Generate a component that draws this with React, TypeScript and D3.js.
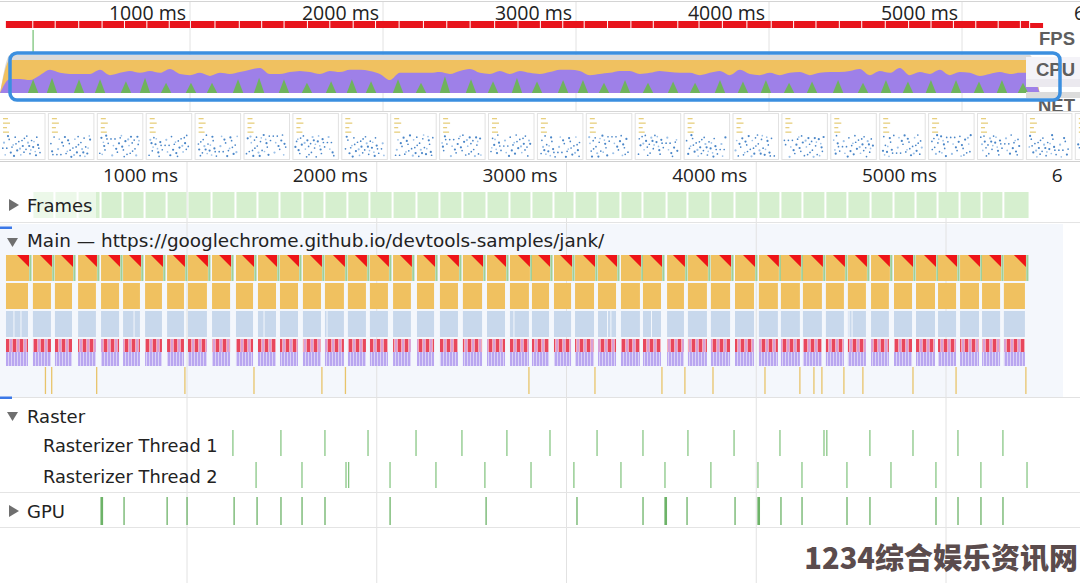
import React from "react";
import * as d3 from "d3";

// ---------------- data (times in ms) ----------------
const TICKS_MS = [1000, 2000, 3000, 4000, 5000, 6000];

const TASK_START_MS = [46, 188, 304, 426, 547, 663, 779, 895, 1005, 1132, 1258, 1374, 1490, 1611, 1727, 1848, 1964, 2086, 2212, 2333, 2454, 2581, 2702, 2818, 2934, 3045, 3166, 3287, 3403, 3530, 3640, 3761, 3888, 4014, 4130, 4246, 4367, 4483, 4605, 4726, 4842, 4958, 5074, 5190, 5305];
const TASK_END_MS = [162, 283, 394, 520, 642, 752, 868, 984, 1105, 1227, 1348, 1469, 1585, 1706, 1827, 1943, 2059, 2180, 2302, 2428, 2555, 2676, 2802, 2908, 3024, 3145, 3261, 3387, 3498, 3619, 3740, 3862, 3988, 4114, 4230, 4346, 4462, 4578, 4699, 4821, 4942, 5053, 5174, 5285, 5416];
const FRAMES_END_MS = 5443;
const FPS_END_MS = 5420;
const FPS_TAIL_START_MS = 5353;
const LOAD_MARK_MS = [187];

const LAYOUT_SPLIT_MS = [88, 125, 721, 1406, 1738, 2723, 3216, 3234, 3448, 4489, 4505];
const YELLOW_MARK_MS = [254, 287, 524, 989, 1353, 1711, 1835, 2802, 3150, 3503, 3624, 3772, 4046, 4230, 4304, 4346, 4462, 4562, 4826, 5053, 5421];

const RASTER1_MS = [1242, 1495, 1727, 1954, 2207, 2449, 2686, 2913, 3161, 3403, 3640, 3883, 4125, 4357, 4372, 4599, 4826, 5063, 5300];
const RASTER2_MS = [1364, 1606, 1838, 1852, 2070, 2312, 2570, 2813, 3039, 3287, 3519, 3761, 4009, 4241, 4478, 4710, 4947, 5184, 5427];
const GPU_MS = [547, 668, 895, 1000, 1248, 1369, 1495, 1606, 1727, 2070, 2576, 3055, 3403, 3519, 3635, 3888, 4009, 4130, 4241, 4478, 4599, 4947, 5063, 5184, 5300];
const GPU_DUR_MS = [14, 6, 6, 6, 6, 6, 6, 6, 6, 6, 6, 6, 6, 14, 6, 6, 14, 6, 6, 6, 6, 6, 6, 6, 6];

// CPU overview: sampled every CPU_STEP_MS from CPU_T0_MS, % of the band
const CPU_T0_MS = 15.5;
const CPU_STEP_MS = 51.8;
const CPU_TOTAL_PCT = 100;
const CPU_SCRIPT_TOP_PCT = 87;
const CPU_RENDER_TOP = [0,
  37, 37, 34, 47, 61, 53, 50, 50, 50, 61,
  47, 53, 58, 53, 58, 53, 63, 50, 47, 53,
  45, 53, 50, 55, 61, 66, 50, 50, 55, 58,
  55, 50, 58, 55, 61, 61, 58, 50, 34, 53,
  53, 53, 53, 55, 50, 58, 63, 53, 50, 58,
  50, 58, 53, 50, 55, 61, 61, 58, 47, 50,
  53, 58, 58, 50, 53, 58, 55, 53, 53, 47,
  53, 58, 47, 61, 50, 47, 53, 47, 53, 55,
  47, 53, 55, 55, 58, 63, 47, 58, 53, 66,
  47, 55, 50, 61, 47, 55, 53, 45, 50, 55,
  50, 53, 53, 0];
const PAINT_MS = [187, 285, 425, 534, 668, 767, 876, 1005, 1114, 1249, 1358, 1487, 1606, 1731, 1839, 1938, 2078, 2197, 2321, 2456, 2570, 2694, 2798, 2933, 3036, 3145, 3254, 3373, 3503, 3617, 3746, 3865, 3984, 4104, 4223, 4358, 4487, 4606, 4720, 4839, 4969, 5088, 5207, 5316];
const PAINT_PCT = [36, 40, 36, 36, 31, 40, 27, 27, 27, 36, 40, 36, 27, 31, 36, 31, 36, 27, 44, 36, 31, 40, 30, 34, 34, 27, 34, 27, 30, 27, 34, 30, 34, 27, 30, 34, 27, 34, 30, 34, 34, 30, 34, 27];
const PAINT_HALF_MS = 27;

const THUMB_COUNT = 23;
// relative dot positions used inside the filmstrip thumbnails (decoration)
const THUMB_DOTS: [number, number][] = [[0.05, 0.35], [0.12, 0.6], [0.18, 0.2], [0.22, 0.8], [0.28, 0.45], [0.33, 0.1], [0.38, 0.7], [0.42, 0.3], [0.47, 0.9], [0.52, 0.5], [0.56, 0.15], [0.6, 0.65], [0.65, 0.35], [0.7, 0.85], [0.74, 0.25], [0.78, 0.55], [0.83, 0.75], [0.87, 0.1], [0.9, 0.45], [0.95, 0.8], [0.08, 0.9], [0.15, 0.05], [0.25, 0.55], [0.35, 0.4], [0.45, 0.62], [0.55, 0.78], [0.62, 0.05], [0.68, 0.5], [0.8, 0.3], [0.92, 0.6], [0.3, 0.95], [0.5, 0.25], [0.72, 0.68], [0.85, 0.92], [0.02, 0.6]];

// ---------------- style ----------------
const UI_FONT = "'DejaVu Sans', sans-serif";
const TICK_FONT = "'Open Sans', sans-serif";
const YELLOW = "#f0c160";
const PURPLE = "#9e80e8";
const GREEN = "#6fb35c";
const RED = "#ee1418";
const GRID = "#e2e2e2";
const TEXT = "#222";
const TRI = "#6f6f6f";
const PANEL_RIGHT = 1063;

export default function App() {
  const xs = d3.scaleLinear().domain([0, 6000]).range([-2.75, 1135.75]);
  const xo = d3.scaleLinear().domain([0, 6000]).range([-3, 1155]);
  const yc = d3.scaleLinear().domain([0, 100]).range([93, 55]);

  const cpuT = CPU_RENDER_TOP.map((_, i) => CPU_T0_MS + i * CPU_STEP_MS);
  const cpuTotal = CPU_RENDER_TOP.map((v) => (v === 0 ? 0 : CPU_TOTAL_PCT));
  const cpuScript = CPU_RENDER_TOP.map((v) => (v === 0 ? 0 : CPU_SCRIPT_TOP_PCT));
  const areaOf = (vals: number[]) =>
    d3
      .area<number>()
      .x((_, i) => xo(cpuT[i]))
      .y0(yc(0))
      .y1((v) => yc(v))
      .curve(d3.curveMonotoneX)(vals) || "";
  const spikeGen = d3
    .area<[number, number]>()
    .x((d) => xo(d[0]))
    .y0(yc(0))
    .y1((d) => yc(d[1]));

  const downTri = (x: number, y: number) => `M${x},${y} L${x + 11},${y} L${x + 5.5},${y + 9} Z`;
  const rightTri = (x: number, y: number) => `M${x},${y} L${x + 10},${y + 6} L${x},${y + 12} Z`;

  const ROW1 = [255, 26];
  const ROW2 = [283, 26];
  const ROW3 = [311, 26];
  const ROW4 = [339, 27];
  const ROW5 = [367, 27];

  return (
    <svg
      width={1080}
      height={583}
      style={{ position: "fixed", left: 0, top: 0, background: "#fff" }}
      fontFamily={UI_FONT}
    >
      <defs>
        <pattern id="p4top" width="7" height="13" patternUnits="userSpaceOnUse">
          <rect width="7" height="13" fill="#e8475c" />
          <rect x="3" width="2.2" height="13" fill="#d8a0d6" />
          <rect x="2.3" width="0.7" height="13" fill="#fff" opacity="0.8" />
          <rect x="5.3" width="0.6" height="13" fill="#fff" opacity="0.8" />
        </pattern>
        <pattern id="p4bot" width="3" height="14" patternUnits="userSpaceOnUse">
          <rect width="3" height="14" fill="#b9a6f0" />
          <rect x="2.3" width="0.7" height="14" fill="#fff" opacity="0.7" />
        </pattern>
        <clipPath id="thumbClip">
          <rect x="0" y="112" width="1080" height="49" />
        </clipPath>
        <clipPath id="panelClip">
          <rect x="0" y="160" width={PANEL_RIGHT} height="423" />
        </clipPath>
      </defs>

      {/* ---------- overview ---------- */}
      <line x1={0} x2={1080} y1={1.5} y2={1.5} stroke="#d4d4d4" />
      {TICKS_MS.map((t) => (
        <line key={"og" + t} x1={xo(t)} x2={xo(t)} y1={2} y2={111} stroke={GRID} />
      ))}
      {TICKS_MS.map((t) => (
        <text key={"ot" + t} x={xo(t) - 4} y={20} textAnchor="end" fontFamily={TICK_FONT} fontSize={19.5} fill={TEXT}>
          {t} ms
        </text>
      ))}

      {/* FPS bar */}
      {TASK_START_MS.map((t, i) => {
        const next = i < TASK_START_MS.length - 1 ? TASK_START_MS[i + 1] : FPS_TAIL_START_MS;
        return <rect key={"fps" + i} x={xo(t)} y={21} width={Math.max(0, xo(next) - xo(t) - 1)} height={7} fill="#e8141c" />;
      })}
      <rect x={xo(FPS_TAIL_START_MS)} y={23} width={xo(FPS_END_MS) - xo(FPS_TAIL_START_MS)} height={5} fill="#e8141c" />
      {LOAD_MARK_MS.map((t) => (
        <line key={"lm" + t} x1={xo(t)} x2={xo(t)} y1={30} y2={53} stroke="#7cc47a" strokeWidth={1.3} />
      ))}

      {/* CPU area */}
      <path d={areaOf(cpuTotal)} fill="#dadada" />
      <path d={areaOf(cpuScript)} fill={YELLOW} />
      <path d={areaOf(CPU_RENDER_TOP)} fill={PURPLE} />
      {PAINT_MS.map((t, i) => (
        <path
          key={"pt" + i}
          d={spikeGen([[t - PAINT_HALF_MS, 0], [t, PAINT_PCT[i]], [t + PAINT_HALF_MS, 0]]) || ""}
          fill={GREEN}
        />
      ))}

      {/* right labels */}
      <text x={1075} y={45} textAnchor="end" fontFamily="'Liberation Sans', sans-serif" fontWeight="bold" fontSize={18.5} fill="#5e5e5e">
        FPS
      </text>
      <rect x={1026} y={57} width={54} height={22} fill="#f4f3f8" />
      <rect x={1026} y={79} width={54} height={8} fill="#ebe9ef" />
      <text x={1075} y={76} textAnchor="end" fontFamily="'Liberation Sans', sans-serif" fontWeight="bold" fontSize={18.5} fill="#5e5e5e">
        CPU
      </text>
      <rect x={1026} y={92} width={54} height={6} fill="#dcdcdc" />
      <text x={1075} y={112} textAnchor="end" fontFamily="'Liberation Sans', sans-serif" fontWeight="bold" fontSize={18.5} fill="#5e5e5e">
        NET
      </text>

      {/* highlight rect */}
      <rect x={10} y={53} width={1050} height={47} rx={7} fill="none" stroke="#3b8fdf" strokeWidth={3.5} />

      {/* ---------- filmstrip ---------- */}
      <rect x={0} y={112} width={1080} height={49} fill="#fff" />
      <line x1={0} x2={1080} y1={111.5} y2={111.5} stroke="#d6d6d6" />
      <g clipPath="url(#thumbClip)">
        {d3.range(THUMB_COUNT).map((i) => {
          const x0 = i * 48.9 - 1;
          return (
            <g key={"th" + i}>
              <rect x={x0 + 0.5} y={113.5} width={45.5} height={46} fill="#fff" stroke="#e2e2e2" />
              {[5, 7, 4, 6].map((w, k) => (
                <rect key={k} x={x0 + 4} y={118 + k * 4.5} width={w} height={1.3} fill="#e7cf7e" />
              ))}
              {THUMB_DOTS.map(([fx, fy], k) => {
                const yy = (fy + i * 0.29) % 1;
                const xx = (fx + i * 0.13) % 1;
                return (
                  <circle
                    key={k}
                    cx={x0 + 3 + xx * 40}
                    cy={135 + yy * 22}
                    r={k % 3 === 0 ? 1.1 : 0.85}
                    fill={k % 4 === 0 ? "#9cc1e8" : "#4a86c8"}
                  />
                );
              })}
            </g>
          );
        })}
      </g>
      <line x1={0} x2={1080} y1={161.5} y2={161.5} stroke="#d0d0d0" />

      {/* ---------- lower timeline ---------- */}
      <rect x={0} y={224} width={PANEL_RIGHT} height={173} fill="#f4f7fc" />
      <g clipPath="url(#panelClip)">
        {TICKS_MS.map((t) => (
          <line key={"lg" + t} x1={xs(t)} x2={xs(t)} y1={162} y2={583} stroke={GRID} />
        ))}
        {TICKS_MS.map((t) => (
          <text key={"lt" + t} x={xs(t) - 9} y={182} textAnchor="end" fontFamily={TICK_FONT} fontSize={19} fill={TEXT}>
            {t} ms
          </text>
        ))}
      </g>

      {/* Frames */}
      {TASK_START_MS.slice(1).map((t, i) => {
        const next = i + 2 < TASK_START_MS.length ? TASK_START_MS[i + 2] : FRAMES_END_MS;
        return <rect key={"fr" + i} x={xs(t) + 0.5} y={192} width={xs(next) - xs(t) - 2} height={26} fill="#d6efcf" />;
      })}
      <rect x={0} y={190} width={96} height={30} fill="#fff" opacity={0.55} />
      <path d={rightTri(9, 199)} fill={TRI} />
      <text x={27} y={212} fontSize={18} fill={TEXT}>Frames</text>
      <line x1={0} x2={1080} y1={222.5} y2={222.5} stroke="#e4e4e4" />

      {/* Main */}
      <rect x={0} y={226.5} width={12} height={2.5} fill="#3b78e7" />
      <path d={downTri(7, 238)} fill={TRI} />
      <text x={27} y={247} fontSize={18.4} fill={TEXT}>
        Main — https://googlechrome.github.io/devtools-samples/jank/
      </text>

      {TASK_START_MS.map((t, i) => {
        const x0 = xs(t);
        const x1 = xs(TASK_END_MS[i]);
        const w = x1 - x0;
        return (
          <g key={"task" + i}>
            <rect x={x0} y={ROW1[0]} width={w + 1} height={ROW1[1]} fill={YELLOW} />
            <path d={`M${x1 + 1 - 12},${ROW1[0]} L${x1 + 1},${ROW1[0]} L${x1 + 1},${ROW1[0] + 12} Z`} fill={RED} />
            <rect x={x1 + 1.3} y={ROW1[0]} width={2.2} height={ROW1[1]} fill="#9fcf98" />
            <rect x={x0} y={ROW2[0]} width={w} height={ROW2[1]} fill={YELLOW} />
            <rect x={x0} y={ROW3[0]} width={w} height={ROW3[1]} fill="#c8d8ec" />
            <rect x={x0} y={ROW4[0]} width={w} height={13} fill="url(#p4top)" />
            <rect x={x0} y={ROW4[0] + 13} width={w} height={ROW4[1] - 13} fill="url(#p4bot)" />
          </g>
        );
      })}
      {LAYOUT_SPLIT_MS.map((t, i) => (
        <line key={"ls" + i} x1={xs(t)} x2={xs(t)} y1={ROW3[0]} y2={ROW3[0] + ROW3[1]} stroke="#f4f7fc" strokeWidth={1} />
      ))}
      {YELLOW_MARK_MS.map((t, i) => (
        <line key={"ym" + i} x1={xs(t)} x2={xs(t)} y1={ROW5[0]} y2={ROW5[0] + ROW5[1]} stroke="#e8c46a" strokeWidth={1.3} />
      ))}
      <line x1={0} x2={1080} y1={397.5} y2={397.5} stroke="#e2e2e2" />
      <rect x={0} y={396.5} width={12} height={2.5} fill="#3b78e7" />

      {/* Raster */}
      <path d={downTri(7, 412)} fill={TRI} />
      <text x={27} y={423} fontSize={18} fill={TEXT}>Raster</text>
      {RASTER1_MS.map((t, i) => (
        <line key={"r1" + i} x1={xs(t)} x2={xs(t)} y1={430} y2={456} stroke="#7fc27b" strokeWidth={1.2} />
      ))}
      {RASTER2_MS.map((t, i) => (
        <line key={"r2" + i} x1={xs(t)} x2={xs(t)} y1={462} y2={488} stroke="#7fc27b" strokeWidth={1.2} />
      ))}
      <text x={43} y={452} fontSize={17.8} fill={TEXT}>Rasterizer Thread 1</text>
      <text x={43} y={483} fontSize={17.8} fill={TEXT}>Rasterizer Thread 2</text>
      <line x1={0} x2={1080} y1={492.5} y2={492.5} stroke="#e4e4e4" />

      {/* GPU */}
      {GPU_MS.map((t, i) => (
        <rect
          key={"g" + i}
          x={xs(t) - 0.6}
          y={497}
          width={Math.max(1.3, xs(t + GPU_DUR_MS[i]) - xs(t))}
          height={28}
          fill="#6db368"
        />
      ))}
      <path d={rightTri(9, 505)} fill={TRI} />
      <text x={27} y={518} fontSize={18} fill={TEXT}>GPU</text>
      <line x1={0} x2={1080} y1={527.5} y2={527.5} stroke="#e4e4e4" />

      {/* watermark */}
      <text
        x={1078}
        y={569}
        textAnchor="end"
        fontFamily="'Noto Sans CJK SC', sans-serif"
        fontWeight={900}
        fontSize={29}
        fill="#5b4c4d"
      >
        1234综合娱乐资讯网
      </text>
    </svg>
  );
}
